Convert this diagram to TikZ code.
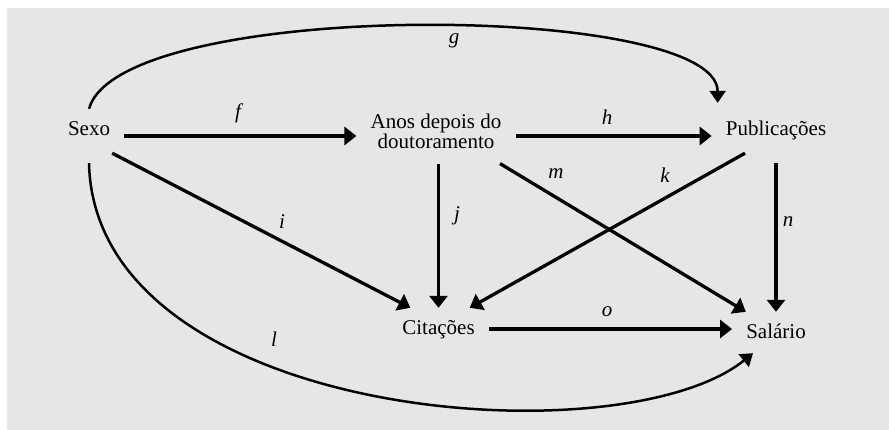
\documentclass[tikz,border=0pt]{standalone}
\usepackage{fontspec}
\setmainfont{Liberation Serif}
\usetikzlibrary{arrows.meta}

\definecolor{bggray}{HTML}{E6E6E6}

\begin{document}
\begin{tikzpicture}[
    x=1pt, y=1pt,
    var/.style={inner xsep=14pt, inner ysep=15pt,
                font=\fontsize{21}{20}\selectfont},
    oneline/.style={var, text height=12pt, text depth=12pt},
    lbl/.style={anchor=base, inner sep=0pt,
                font=\fontsize{21}{24}\selectfont\itshape},
    flow/.style={draw, line width=3.3pt, -{Triangle[length=12pt,width=18pt]}},
    bentflow/.style={draw, line width=2.5pt, -{Triangle[length=12pt,width=16pt]}}
  ]
    \useasboundingbox (0,0) rectangle (889,430);
    \fill[white] (0,0) rectangle (889,430);
    \fill[bggray] (7,0) rectangle (889,422);

    \node[oneline] (sexo) at (89,294) {Sexo};
    \node[var, align=center] (anos) at (436,299) {Anos depois do\\doutoramento};
    \node[oneline] (pub) at (776,294) {Publicações};
    \node[oneline] (cit) at (438.5,95) {Citações};
    \node[oneline] (sal) at (776,91) {Salário};

    \draw[flow] (sexo.east) -- (sexo.east -| anos.west);
    \draw[flow] (pub.west -| anos.east) -- (pub.west);
    \draw[flow] (anos.south -| cit.north) -- (cit.north);
    \draw[flow] (pub.south) -- (sal.north);
    \draw[flow] ([shift={(-12pt,10pt)}]sexo.south east) -- (cit.136);
    \draw[flow] (anos.-27) -- (sal.138);
    \draw[flow] ([shift={(-31pt,10pt)}]pub.south) -- (cit.41);
    \draw[flow] ([yshift=6pt]cit.east) -- ([yshift=6pt]cit.east -| sal.west);
    \draw[bentflow] (sexo.north) .. controls +(31pt,111pt) and +(0pt,101pt)
      .. ([shift={(6pt,6pt)}]pub.north west);
    \draw[bentflow] (sexo.south) .. controls +(6pt,-257pt) and +(-133pt,-107pt)
      .. ([shift={(-23pt,13pt)}]sal.south);

    \node[lbl] (lf) at (238,311) {f};
    \node[lbl] (lg) at (454,386) {g};
    \node[lbl] (lh) at (607,305) {h};
    \node[lbl] (li) at (282,201) {i};
    \node[lbl] (lj) at (457,209.5) {j};
    \node[lbl] (lk) at (665,247) {k};
    \node[lbl] (ll) at (274,83) {l};
    \node[lbl] (lm) at (556,251) {m};
    \node[lbl] (ln) at (788,203) {n};
    \node[lbl] (lo) at (607,113) {o};
  \end{tikzpicture}
\end{document}
